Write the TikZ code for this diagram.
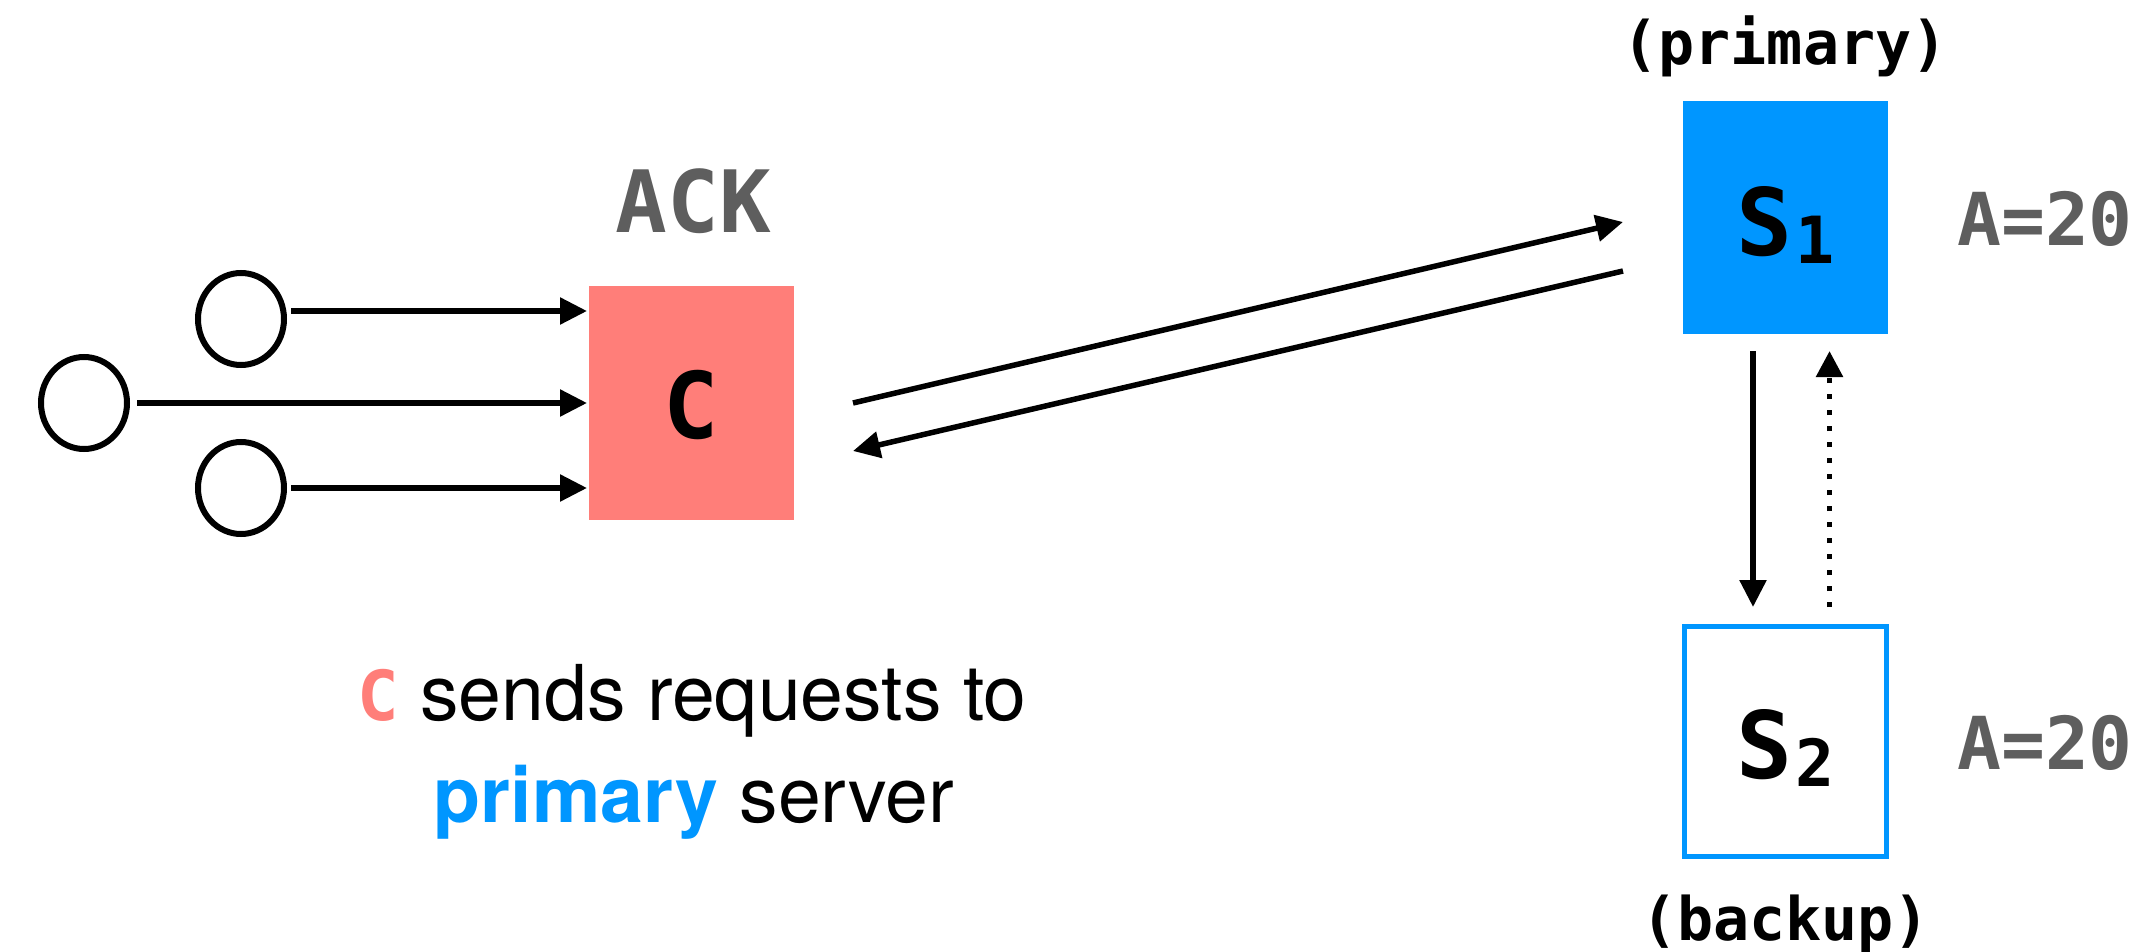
\documentclass[tikz,border=0pt]{standalone}
\usepackage{fontspec}
\usetikzlibrary{arrows.meta,calc,shapes.geometric}
\newfontfamily\monof{DejaVu Sans Mono}
\newfontfamily\helvf{TeX Gyre Heros}
\definecolor{salmon}{HTML}{FF7E79}
\definecolor{sky}{HTML}{0096FF}
\definecolor{graytxt}{HTML}{5E5E5E}
\begin{document}
\begin{tikzpicture}[x=1pt,y=-1pt,
  client/.style={draw,ellipse,line width=6pt,minimum width=86pt,minimum height=92pt,inner sep=0pt,outer sep=0pt},
  srvbox/.style={minimum width=205pt,minimum height=233pt,inner sep=0pt,outer sep=0pt},
  arr/.style={line width=5.5pt,-{Triangle[length=27pt,width=26pt]}},
  dotarr/.style={line width=5.5pt,dash pattern=on 5.5pt off 10.5pt,-{Triangle[length=26pt,width=26pt]}},
  mono/.style={inner sep=0pt,anchor=base,font=\monof\bfseries\fontsize{#1}{#1}\selectfont},
  sans/.style={inner sep=0pt,anchor=base,font=\helvf\fontsize{77}{77}\selectfont}]
\fill[white] (0,0) rectangle (2146,952);
\useasboundingbox (0,0) rectangle (2146,952);

% clients
\node[client] (c0) at (84,403) {};
\node[client] (c1) at (241,319) {};
\node[client] (c2) at (241,488) {};

% C box
\node[srvbox,fill=salmon,minimum height=234pt] (C) at (691.5,403) {};
\node[mono=92] (Clab) at (691,438) {C};
\node[mono=86,text=graytxt] (ack) at (693.5,232) {ACK};

% S1 and S2
\node[srvbox,fill=sky] (S1) at (1785.5,217.5) {};
\node[mono=93] (S1lab) at (1785.5,255) {S\kern3pt\raisebox{-8pt}{\fontsize{65}{65}\selectfont 1}};
\node[srvbox,draw=sky,line width=5pt,fill=white,minimum width=202pt,minimum height=230pt] (S2) at (1785.5,741.5) {};
\node[mono=93] (S2lab) at (1785.5,778) {S\kern3pt\raisebox{-8pt}{\fontsize{65}{65}\selectfont 2}};

\node[mono=60] (prim) at (1785,65) {(primary)};
\node[mono=60] (back) at (1785.5,940) {(backup)};
\node[mono=73,text=graytxt] (a1) at (2045,245) {A=20};
\node[mono=73,text=graytxt] (a2) at (2045,769) {A=20};

% client arrows
\draw[arr] ($(c1.center)+(50,-8)$) -- ($(C.west)+(-2,-92)$);
\draw[arr] ($(c0.center)+(53,0)$) -- ($(C.west)+(-2,0)$);
\draw[arr] ($(c2.center)+(50,0)$) -- ($(C.west)+(-2,85)$);

% C <-> S1
\coordinate (up0) at ($(C.east)+(59,0)$);
\coordinate (up1) at ($(S1.west)+(-60,4.5)$);
\coordinate (dn0) at ($(S1.west)+(-60,53.5)$);
\coordinate (dn1) at ($(C.east)+(59,48)$);
\draw[arr] (up0) -- (up1);
\draw[arr] (dn0) -- (dn1);

% S1 <-> S2
\draw[arr] ($(S1.south)+(-32.5,17)$) -- ($(S2.north)+(-32.5,-19.5)$);
\draw[dotarr] ($(S2.north)+(44,-19.5)$) -- ($(S1.south)+(44,17)$);

% caption
\node[sans] (l1) at (692,720) {{\monof\bfseries\fontsize{69}{69}\selectfont\color{salmon}C} sends requests to};
\node[sans] (l2) at (694,822) {{\bfseries\color{sky}primary} server};
\end{tikzpicture}
\end{document}
